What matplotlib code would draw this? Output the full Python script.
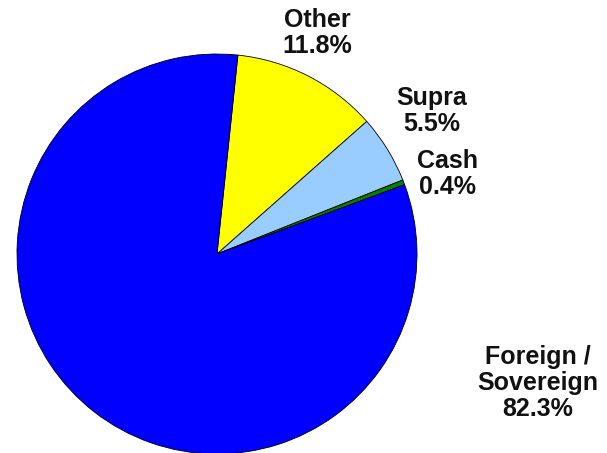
import matplotlib
matplotlib.use("Agg")
from matplotlib import pyplot as plt

# data
labels = ["Other", "Supra", "Cash", "Foreign /\nSovereign"]
shares = [11.8, 5.5, 0.4, 82.3]
colors = ["#FFFF00", "#99CCFF", "#008000", "#0000FF"]

# label centres in pixel coords (x, y from top)
label_pos = [(317, 33), (432, 111), (447, 174), (538, 383)]

plt.rcParams['font.family'] = ['Liberation Sans', 'DejaVu Sans']

fig = plt.figure(figsize=(6.07, 4.53), dpi=100)
ax = fig.add_axes([0, 0, 1, 1])

# y axis is inverted (pixel coords), so a counterclockwise pie from -84 deg
# shows up clockwise from 84 deg on screen
ax.pie(shares, colors=colors, startangle=-84, counterclock=True,
       center=(217, 254), radius=200, frame=True,
       wedgeprops=dict(edgecolor='black', linewidth=0.6))
ax.set_xlim(0, 607)
ax.set_ylim(453, 0)
ax.set_aspect('equal')
ax.axis('off')

for lab, val, (x, y) in zip(labels, shares, label_pos):
    ax.text(x, y, f"{lab}\n{val:.1f}%", ha='center', va='center',
            fontsize=18, fontweight='bold', color='#111111', linespacing=1.1)

fig.savefig("out.png", dpi=100)
